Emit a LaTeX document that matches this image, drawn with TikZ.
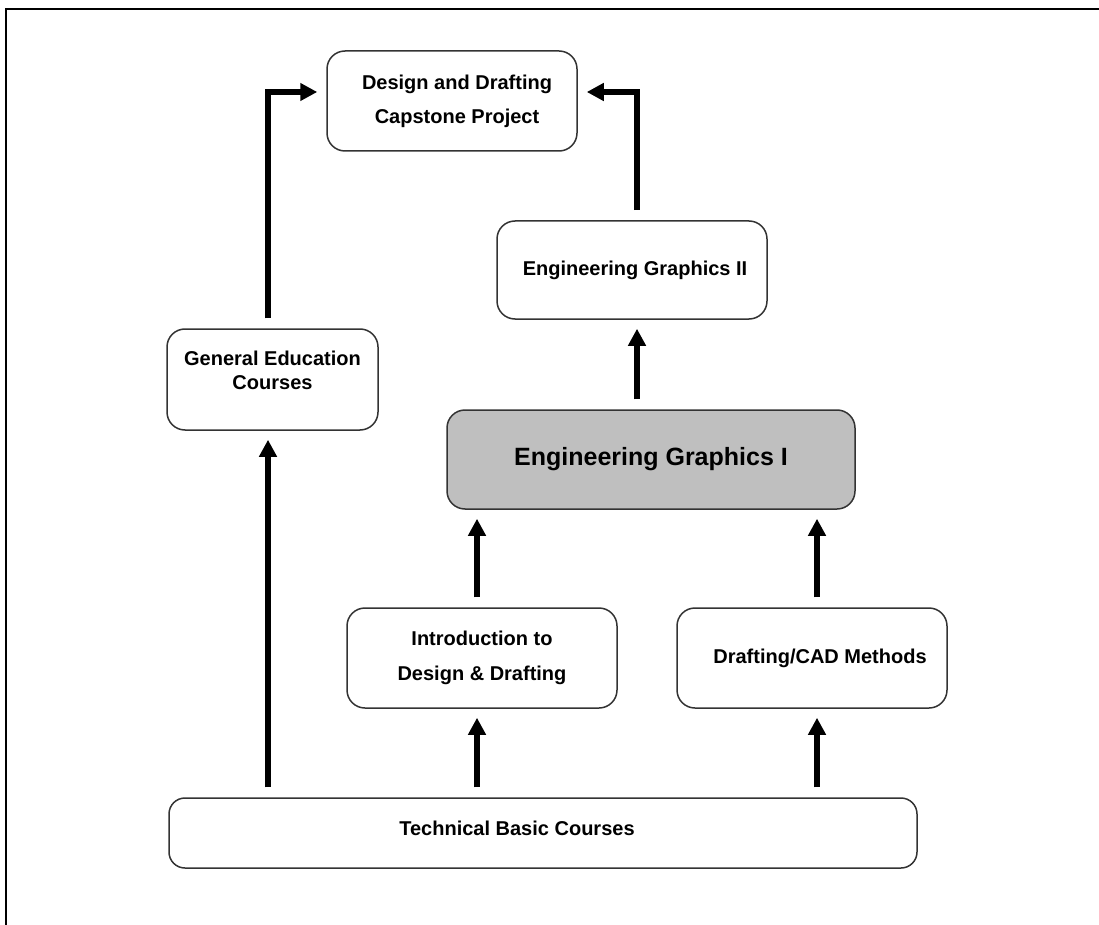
\documentclass[tikz,border=0pt]{standalone}
\usepackage{fontspec}
\setmainfont{Liberation Sans}
\usetikzlibrary{arrows.meta}

\begin{document}
\begin{tikzpicture}[x=1pt, y=-1pt,
  box/.style={draw=black!80, line width=1.5pt, rounded corners=18pt, align=center,
    font=\fontsize{20}{24}\selectfont\bfseries, inner sep=0pt},
  flow/.style={line width=6.5pt, -{Triangle[length=17pt,width=17pt]},
    shorten <=10pt, shorten >=9pt}]
\useasboundingbox (0,0) rectangle (1099,925);

% frame (cut off at the right and bottom)
\draw[line width=2.2pt] (6,925) -- (6,9) -- (1099,9);

% boxes
\node[box, minimum width=250pt, minimum height=100pt] (cap) at (452,101)
  {\hspace*{10pt}Design and Drafting\\[10pt]\hspace*{10pt}Capstone Project};
\node[box, minimum width=270pt, minimum height=98pt] (eg2) at (632,270)
  {\hspace*{6pt}Engineering Graphics II};
\node[box, minimum width=211pt, minimum height=101pt, text depth=18pt] (gened) at (272.5,379.5)
  {General Education\\Courses};
\node[box, fill=black!25, minimum width=408pt, minimum height=99pt,
  font=\fontsize{25}{30}\selectfont\bfseries] (eg1) at (651,459.5)
  {Engineering Graphics I};
\node[box, minimum width=270pt, minimum height=100pt] (intro) at (482,658)
  {Introduction to\\[11pt]Design \& Drafting};
\node[box, minimum width=270pt, minimum height=100pt] (draft) at (812,658)
  {\hspace*{16pt}Drafting/CAD Methods};
\node[box, rounded corners=16pt, minimum width=748pt, minimum height=70pt, text depth=10pt] (tech) at (543,833)
  {Technical Basic Courses\hspace*{52pt}};

% arrow positions
\coordinate (cL) at (268,0);
\coordinate (cM) at (477,0);
\coordinate (cC) at (637,0);
\coordinate (cR) at (817,0);
\coordinate (cT) at (0,92);

% arrows
\draw[flow] (tech.north -| cL) -- (gened.south -| cL);
\draw[flow] (tech.north -| cM) -- (intro.south -| cM);
\draw[flow] (tech.north -| cR) -- (draft.south -| cR);
\draw[flow] (intro.north -| cM) -- (eg1.south -| cM);
\draw[flow] (draft.north -| cR) -- (eg1.south -| cR);
\draw[flow] (eg1.north -| cC) -- (eg2.south -| cC);
\draw[flow] (gened.north -| cL) -- (cL |- cT) -- (cap.west |- cT);
\draw[flow] (eg2.north -| cC) -- (cC |- cT) -- (cap.east |- cT);
\end{tikzpicture}
\end{document}
